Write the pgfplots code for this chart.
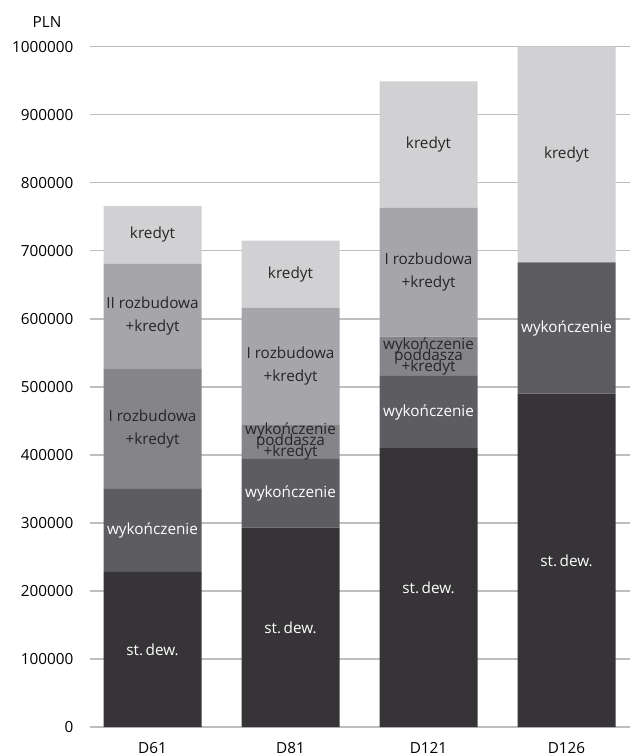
\documentclass[border=0pt]{standalone}
\usepackage{fontspec}
\setmainfont{Open Sans}
\usepackage{pgfplots}
\pgfplotsset{compat=1.18}
\definecolor{c1}{HTML}{363437}
\definecolor{c2}{HTML}{5D5C61}
\definecolor{c3}{HTML}{858488}
\definecolor{c4}{HTML}{A6A5A9}
\definecolor{c5}{HTML}{D1D1D3}
\definecolor{gridc}{HTML}{BEBEBE}
\protected\def\Lst{st.\,dew.}
\protected\def\Lwyk{wykończenie}
\protected\def\LrozI{I rozbudowa\\[5pt]+kredyt}
\protected\def\LrozII{II rozbudowa\\[5pt]+kredyt}
\protected\def\Lpodd{wykończenie\\[-7pt]poddasza\\[-7pt]+kredyt}
\protected\def\Lkr{kredyt}
\begin{document}
\begin{tikzpicture}[font=\fontsize{15.3}{18}\selectfont]
\begin{axis}[
  at={(0,0)}, anchor=south west,
  scale only axis, width=540pt, height=680.3pt,
  xmin=-0.453, xmax=3.46, ymin=0, ymax=1000000,
  enlargelimits=false,
  ybar stacked, bar width=0.71,
  axis line style={draw=none},
  major tick length=0pt,
  xtick={0,1,2,3}, xticklabels={D61,D81,D121,D126},
  ytick={0,100000,200000,300000,400000,500000,600000,700000,800000,900000,1000000},
  scaled y ticks=false,
  /pgf/number format/fixed,
  /pgf/number format/1000 sep={},
  /pgf/number format/assume math mode=true,
  ymajorgrids, grid style={color=gridc, line width=1.4pt},
  yticklabel style={anchor=east, xshift=-13pt},
  xticklabel style={anchor=base, yshift=-26pt},
  clip=false,
  lbl/.style={nodes near coords, point meta=explicit symbolic,
    every node near coord/.append style={anchor=center, align=center,
      text=#1}},
]
\addplot[fill=c1, draw=none, lbl=white] coordinates {
  (0,228000) [\Lst] (1,293000) [\Lst] (2,410000) [\Lst] (3,490000) [\Lst]};
\addplot[fill=c2, draw=none, lbl=white] coordinates {
  (0,122000) [\Lwyk] (1,101000) [\Lwyk] (2,106000) [\Lwyk] (3,193000) [\Lwyk]};
\addplot[fill=c3, draw=none, lbl=black!85] coordinates {
  (0,177000) [\LrozI] (1,51000) [\Lpodd] (2,58000) [\Lpodd] (3,0) []};
\addplot[fill=c4, draw=none, lbl=black!85] coordinates {
  (0,154000) [\LrozII] (1,171000) [\LrozI] (2,189000) [\LrozI] (3,0) []};
\addplot[fill=c5, draw=none, lbl=black!85] coordinates {
  (0,85000) [\Lkr] (1,99000) [\Lkr] (2,186000) [\Lkr] (3,317000) [\Lkr]};
\node at (rel axis cs:-0.0796,1.036) {PLN};
\end{axis}
\pgfresetboundingbox
\path[use as bounding box] (-90pt,-29pt) rectangle (540pt,727pt);
\end{tikzpicture}
\end{document}
